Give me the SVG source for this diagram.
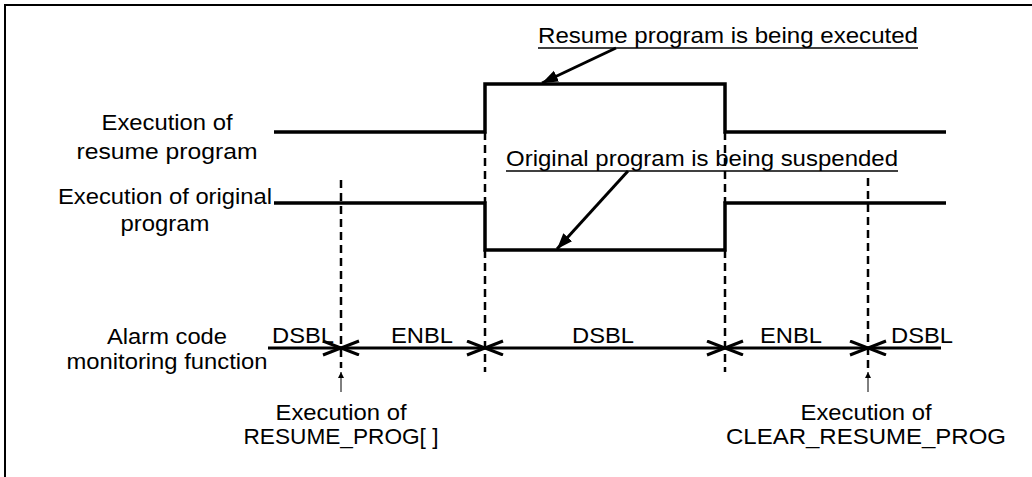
<svg xmlns="http://www.w3.org/2000/svg" width="1032" height="477" viewBox="0 0 1032 477">
<style>
text{font-family:"Liberation Sans",Arial,sans-serif;font-size:21.5px;fill:#000}
.c{text-anchor:middle}
.sig{fill:none;stroke:#000;stroke-width:3.5}
.dash{fill:none;stroke:#000;stroke-width:2.5;stroke-dasharray:8,5}
.span{fill:none;stroke:#000;stroke-width:3}
.ul{stroke:#000;stroke-width:1.5}
.ptr{stroke:#000;stroke-width:3}
.up{stroke:#000;stroke-width:1}
</style>
<defs>
<marker id="chev" markerUnits="userSpaceOnUse" markerWidth="24" markerHeight="20" refX="19" refY="8" orient="auto-start-reverse">
<path d="M1,1 L19,8 L1,15" fill="none" stroke="#000" stroke-width="3" stroke-linejoin="miter"/>
</marker>
<marker id="tri" markerUnits="userSpaceOnUse" markerWidth="18" markerHeight="14" refX="16" refY="6" orient="auto">
<path d="M0,0 L16,6 L0,12 Z" fill="#000"/>
</marker>
<marker id="small" markerUnits="userSpaceOnUse" markerWidth="8" markerHeight="8" refX="6" refY="3" orient="auto">
<path d="M0,0 L6,3 L0,6 Z" fill="#000"/>
</marker>
</defs>
<rect x="5" y="5" width="1100" height="600" fill="#fff" stroke="#000" stroke-width="2"/>

<g id="labels-left">
<text class="c" x="167" y="130" textLength="131" lengthAdjust="spacingAndGlyphs">Execution of</text>
<text class="c" x="167" y="159" textLength="181" lengthAdjust="spacingAndGlyphs">resume program</text>
<text class="c" x="165" y="204" textLength="214" lengthAdjust="spacingAndGlyphs">Execution of original</text>
<text class="c" x="165" y="231" textLength="89" lengthAdjust="spacingAndGlyphs">program</text>
<text class="c" x="167" y="344" textLength="120" lengthAdjust="spacingAndGlyphs">Alarm code</text>
<text class="c" x="167" y="369" textLength="201" lengthAdjust="spacingAndGlyphs">monitoring function</text>
</g>

<g id="signal-resume">
<path class="sig" d="M274,132 H485 V84 H725 V132 H946"/>
</g>
<g id="signal-original">
<path class="sig" d="M274,203 H485 V250 H725 V203 H946"/>
</g>

<g id="note-resume">
<text x="538" y="43" textLength="380" lengthAdjust="spacingAndGlyphs">Resume program is being executed</text>
<line class="ul" x1="538" y1="48" x2="918" y2="48"/>
</g>
<g id="note-original">
<text x="506" y="166" textLength="392" lengthAdjust="spacingAndGlyphs">Original program is being suspended</text>
<line class="ul" x1="506" y1="171" x2="898" y2="171"/>
</g>

<g id="states">
<text class="c" x="303" y="343" textLength="62" lengthAdjust="spacingAndGlyphs">DSBL</text>
<text class="c" x="422" y="343" textLength="62" lengthAdjust="spacingAndGlyphs">ENBL</text>
<text class="c" x="603" y="343" textLength="62" lengthAdjust="spacingAndGlyphs">DSBL</text>
<text class="c" x="791" y="343" textLength="62" lengthAdjust="spacingAndGlyphs">ENBL</text>
<text class="c" x="922" y="343" textLength="62" lengthAdjust="spacingAndGlyphs">DSBL</text>
</g>

<g id="event-resume">
<text class="c" x="341" y="420" textLength="131" lengthAdjust="spacingAndGlyphs">Execution of</text>
<text class="c" x="341" y="444" textLength="195" lengthAdjust="spacingAndGlyphs">RESUME_PROG[ ]</text>
</g>
<g id="event-clear">
<text class="c" x="866" y="420" textLength="131" lengthAdjust="spacingAndGlyphs">Execution of</text>
<text class="c" x="866" y="444" textLength="280" lengthAdjust="spacingAndGlyphs">CLEAR_RESUME_PROG</text>
</g>

<g id="connectors">
<line class="dash" x1="341" y1="180" x2="341" y2="368"/>
<line class="dash" x1="485" y1="132" x2="485" y2="203"/>
<line class="dash" x1="485" y1="250" x2="485" y2="372"/>
<line class="dash" x1="725" y1="132" x2="725" y2="203"/>
<line class="dash" x1="725" y1="250" x2="725" y2="372"/>
<line class="dash" x1="868" y1="178" x2="868" y2="368"/>

<line class="span" x1="268" y1="348" x2="341" y2="348" marker-end="url(#chev)"/>
<line class="span" x1="341" y1="348" x2="485" y2="348" marker-start="url(#chev)" marker-end="url(#chev)"/>
<line class="span" x1="485" y1="348" x2="725" y2="348" marker-start="url(#chev)" marker-end="url(#chev)"/>
<line class="span" x1="725" y1="348" x2="868" y2="348" marker-start="url(#chev)" marker-end="url(#chev)"/>
<line class="span" x1="941" y1="348" x2="868" y2="348" marker-end="url(#chev)"/>

<line class="ptr" x1="616" y1="48" x2="542" y2="83" marker-end="url(#tri)"/>
<line class="ptr" x1="628" y1="171" x2="557" y2="249" marker-end="url(#tri)"/>

<line class="up" x1="341" y1="392" x2="341" y2="372" marker-end="url(#small)"/>
<line class="up" x1="868" y1="392" x2="868" y2="372" marker-end="url(#small)"/>
</g>
</svg>
